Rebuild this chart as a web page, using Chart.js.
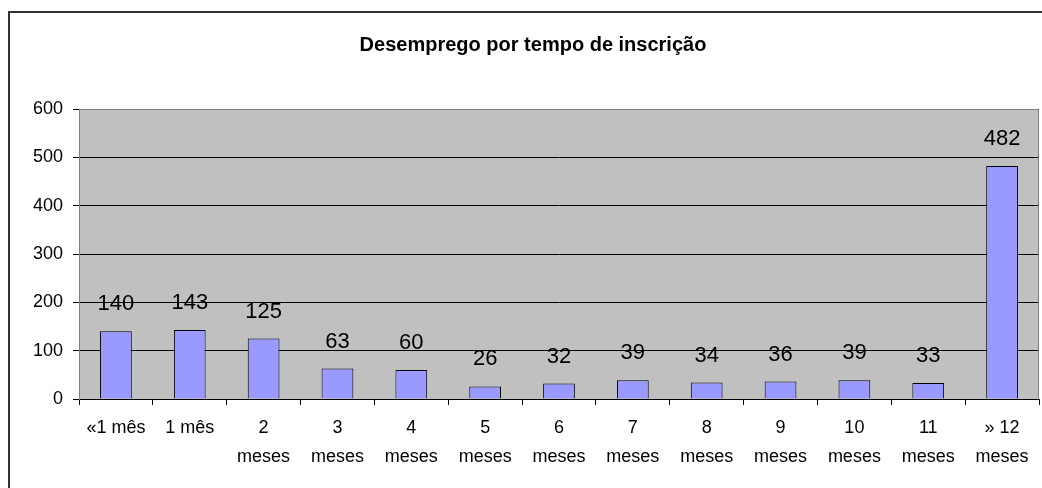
<!DOCTYPE html>
<html>
<head>
<meta charset="utf-8">
<script src="https://cdn.jsdelivr.net/npm/chart.js@4/dist/chart.umd.min.js"></script>
<style>
html,body{margin:0;padding:0;background:#fff;}
#wrap{width:1042px;height:488px;position:relative;}
</style>
</head>
<body>
<div id="wrap"><canvas id="c" width="1042" height="488"></canvas></div>
<script>
const titleText = "Desemprego por tempo de inscrição";
const categories = [
  "«1 mês", "1 mês", ["2","meses"], ["3","meses"], ["4","meses"], ["5","meses"],
  ["6","meses"], ["7","meses"], ["8","meses"], ["9","meses"], ["10","meses"],
  ["11","meses"], ["» 12","meses"]
];
const values = [140, 143, 125, 63, 60, 26, 32, 39, 34, 36, 39, 33, 482];
const yTicks = [0, 100, 200, 300, 400, 500, 600];

const FONT = "'Liberation Sans', Arial, sans-serif";

const framePlugin = {
  id: 'frame',
  beforeDraw(chart) {
    const {ctx, chartArea: a} = chart;
    ctx.save();
    ctx.fillStyle = '#fff';
    ctx.fillRect(0, 0, chart.width, chart.height);
    ctx.strokeStyle = '#333';
    ctx.lineWidth = 2;
    ctx.strokeRect(9, 12, chart.width + 20, chart.height + 20);
    ctx.fillStyle = '#c0c0c0';
    ctx.fillRect(a.left, a.top, a.right - a.left, a.bottom - a.top);
    ctx.restore();
  },
  afterDraw(chart) {
    const {ctx, chartArea: a} = chart;
    ctx.save();
    ctx.strokeStyle = '#808080';
    ctx.lineWidth = 1;
    ctx.beginPath();
    ctx.moveTo(a.left + 0.5, a.bottom);
    ctx.lineTo(a.left + 0.5, a.top + 0.5);
    ctx.lineTo(a.right - 0.5, a.top + 0.5);
    ctx.lineTo(a.right - 0.5, a.bottom);
    ctx.stroke();
    // title
    ctx.fillStyle = '#000';
    ctx.font = "bold 20px " + FONT;
    ctx.textAlign = 'center';
    ctx.textBaseline = 'middle';
    ctx.fillText(titleText, 533, 45);
    ctx.restore();
  },
  afterDatasetsDraw(chart) {
    const {ctx} = chart;
    const meta = chart.getDatasetMeta(0);
    ctx.save();
    ctx.fillStyle = '#000';
    ctx.font = "22px " + FONT;
    ctx.textAlign = 'center';
    ctx.textBaseline = 'middle';
    meta.data.forEach((bar, i) => {
      ctx.fillText(String(values[i]), bar.x, bar.y - 27);
    });
    ctx.restore();
  }
};

new Chart(document.getElementById('c'), {
  type: 'bar',
  data: {
    labels: categories,
    datasets: [{
      data: values,
      backgroundColor: '#9999ff',
      borderColor: '#000',
      borderWidth: 1,
      categoryPercentage: 1,
      barPercentage: 0.43
    }]
  },
  options: {
    responsive: false,
    animation: false,
    devicePixelRatio: 1,
    layout: {padding: {top: 109, right: 3, left: 0, bottom: 0}},
    plugins: {legend: {display: false}, tooltip: {enabled: false}, title: {display: false}},
    scales: {
      x: {
        grid: {display: true, drawOnChartArea: false, offset: true, tickLength: 6, color: '#000'},
        border: {display: true, color: '#000', width: 1},
        ticks: {color: '#000', padding: 9, font: {family: FONT, size: 18, lineHeight: 1.6}, maxRotation: 0, autoSkip: false},
        afterFit(s) { s.height = 89; }
      },
      y: {
        min: 0, max: 600,
        afterBuildTicks(s) { s.ticks = yTicks.map(v => ({value: v})); },
        grid: {color: '#000', tickLength: 6, lineWidth: 1},
        border: {display: true, color: '#808080', width: 1},
        ticks: {color: '#000', padding: 10, font: {family: FONT, size: 18}},
        afterFit(s) { s.width = 79; }
      }
    }
  },
  plugins: [framePlugin]
});
</script>
</body>
</html>
